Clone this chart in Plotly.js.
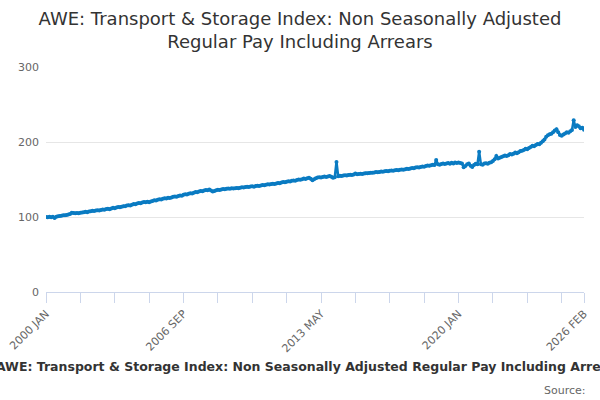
<!DOCTYPE html>
<html>
<head>
<meta charset="utf-8">
<script src="https://cdn.plot.ly/plotly-3.0.1.min.js"></script>
<style>
  html, body { margin: 0; padding: 0; background: #fff; }
  #chart { width: 600px; height: 400px; }
</style>
</head>
<body>
<div id="chart"></div>
<script>
// Month names used to build the category labels
var monthNames = ['JAN', 'FEB', 'MAR', 'APR', 'MAY', 'JUN', 'JUL', 'AUG', 'SEP', 'OCT', 'NOV', 'DEC']
var startYear = 2000

// Index values, one row per year (2000 JAN .. 2026 FEB)
var indexValues = [
  100.0, 99.6, 100.2, 99.8, 100.5, 98.7, 100.4, 101.0, 101.3, 101.6, 102.2, 102.5,   // 2000
  102.8, 103.4, 104.1, 105.8, 105.2, 105.0, 105.4, 105.1, 105.6, 106.0, 106.3, 106.9, // 2001
  106.5, 107.2, 107.6, 108.3, 107.9, 108.6, 109.1, 108.8, 109.5, 110.0, 109.8, 110.6, // 2002
  110.9, 110.5, 111.4, 112.2, 111.8, 112.7, 113.3, 113.0, 113.8, 114.5, 114.2, 115.3, // 2003
  115.8, 115.5, 116.4, 117.2, 117.0, 117.9, 118.6, 118.3, 119.2, 120.1, 119.8, 120.5, // 2004
  119.8, 120.6, 121.5, 122.3, 122.0, 122.9, 123.6, 123.3, 124.2, 125.0, 124.7, 125.6, // 2005
  125.3, 126.1, 126.9, 127.5, 127.1, 128.0, 128.8, 128.4, 129.6, 130.2, 129.9, 131.0, // 2006
  131.6, 131.2, 132.5, 133.3, 132.9, 134.1, 134.8, 134.4, 135.5, 136.0, 135.6, 136.8, // 2007
  135.2, 134.0, 134.6, 135.8, 136.3, 136.0, 136.7, 137.2, 136.9, 137.6, 138.1, 137.8, // 2008
  138.4, 137.9, 138.3, 138.8, 138.5, 139.1, 139.6, 139.2, 139.9, 140.3, 140.0, 140.6, // 2009
  140.9, 140.5, 141.2, 141.8, 141.4, 142.1, 142.7, 142.3, 143.0, 143.6, 143.2, 143.9, // 2010
  144.4, 144.0, 144.8, 145.5, 145.1, 145.9, 146.6, 146.2, 147.0, 147.7, 147.3, 148.2, // 2011
  148.8, 148.4, 149.3, 150.1, 149.7, 150.5, 151.2, 150.8, 151.6, 152.2, 151.0, 149.0, // 2012
  150.4, 151.8, 152.6, 153.1, 152.8, 153.4, 153.9, 153.5, 154.1, 154.6, 153.8, 152.2, // 2013
  153.0, 173.5, 154.3, 155.0, 154.7, 155.3, 155.8, 155.4, 156.0, 156.4, 156.1, 156.8, // 2014
  158.0, 156.9, 157.3, 157.8, 157.5, 158.1, 158.5, 158.2, 158.8, 159.1, 158.9, 159.5, // 2015
  159.9, 159.6, 160.1, 160.6, 160.3, 160.9, 161.3, 161.0, 161.6, 162.0, 161.7, 162.3, // 2016
  162.6, 162.3, 162.9, 163.5, 163.1, 163.8, 164.4, 164.0, 164.8, 165.4, 165.0, 165.9, // 2017
  166.3, 166.0, 166.8, 167.5, 167.1, 167.9, 168.6, 168.2, 169.0, 169.7, 169.3, 176.0, // 2018
  170.3, 169.8, 170.6, 171.2, 170.7, 171.5, 172.0, 171.0, 172.3, 171.5, 172.6, 172.1, // 2019
  172.8, 172.0, 171.5, 166.5, 168.0, 170.5, 171.3, 168.2, 166.8, 169.5, 171.0, 170.2, // 2020
  187.0, 170.5, 169.8, 171.2, 171.8, 171.0, 172.4, 173.0, 174.6, 177.0, 181.5, 178.0, // 2021
  179.0, 180.0, 181.0, 182.0, 181.5, 182.5, 184.0, 183.5, 184.5, 186.0, 185.0, 186.5, // 2022
  188.0, 188.5, 189.5, 191.0, 190.5, 192.0, 193.5, 195.0, 194.5, 196.0, 197.5, 197.0, // 2023
  199.0, 201.0, 203.5, 207.0, 209.0, 210.5, 211.0, 213.0, 215.5, 217.0, 213.0, 209.5, // 2024
  208.5, 210.0, 211.5, 213.0, 212.5, 214.5, 216.0, 229.0, 220.0, 222.5, 221.0, 218.5, // 2025
  219.0, 216.5                                                                          // 2026
]

// Category labels like "2000 JAN"
var monthLabels = indexValues.map((v, i) => (startYear + Math.floor(i / 12)) + ' ' + monthNames[i % 12])

// Ticks every 20 months plus the last month; only some of them carry a label
var labelledTicks = ['2000 JAN', '2006 SEP', '2013 MAY', '2020 JAN', '2026 FEB']
var tickCats = monthLabels.filter((m, i) => i % 20 === 0 || i === monthLabels.length - 1)
var tickText = tickCats.map(m => labelledTicks.indexOf(m) >= 0 ? m : '')

var titleText = 'AWE: Transport & Storage Index: Non Seasonally Adjusted Regular Pay Including Arrears'

var chart_data = [
  {
    x: monthLabels,
    y: indexValues,
    type: 'scatter',
    mode: 'lines+markers',
    line: { color: '#0a7bc2', width: 2.5 },
    marker: { color: '#0a7bc2', size: 4 },
    hoverinfo: 'x+y'
  }
]

var chart_layout = {
  width: 600,
  height: 400,
  font: { family: 'DejaVu Sans, sans-serif', color: '#666666' },
  paper_bgcolor: '#ffffff',
  plot_bgcolor: '#ffffff',
  showlegend: false,
  margin: { l: 46, r: 16, t: 67, b: 108 },
  title: {
    text: 'AWE: Transport & Storage Index: Non Seasonally Adjusted<br>Regular Pay Including Arrears',
    x: 0.5,
    xanchor: 'center',
    yref: 'container',
    y: 0.938,
    yanchor: 'middle',
    font: { size: 18, color: '#333333', family: 'DejaVu Sans, sans-serif' }
  },
  xaxis: {
    type: 'category',
    range: [0, monthLabels.length - 1],
    tickmode: 'array',
    tickvals: tickCats,
    ticktext: tickText,
    tickangle: -45,
    ticks: 'outside',
    ticklen: 10,
    tickcolor: '#ccd6eb',
    showline: true,
    linecolor: '#ccd6eb',
    linewidth: 1,
    showgrid: false,
    zeroline: false,
    tickfont: { size: 11, color: '#666666' }
  },
  yaxis: {
    range: [0, 300],
    tickvals: [0, 100, 200, 300],
    showgrid: true,
    gridcolor: '#e6e6e6',
    zeroline: false,
    showline: false,
    ticks: '',
    ticklabelstandoff: 6,
    tickfont: { size: 11, color: '#666666' }
  },
  annotations: [
    {
      text: '<b>' + titleText + '</b>',
      xref: 'paper', yref: 'paper',
      x: 0.489, y: -0.329,
      xanchor: 'center', yanchor: 'middle',
      showarrow: false,
      font: { size: 12.5, color: '#333333' }
    },
    {
      text: 'Source:',
      xref: 'paper', yref: 'paper',
      x: 1.0074, y: -0.436,
      xanchor: 'right', yanchor: 'middle',
      showarrow: false,
      font: { size: 11, color: '#666666' }
    }
  ]
}

Plotly.newPlot('chart', chart_data, chart_layout, { displayModeBar: false })
</script>
</body>
</html>
